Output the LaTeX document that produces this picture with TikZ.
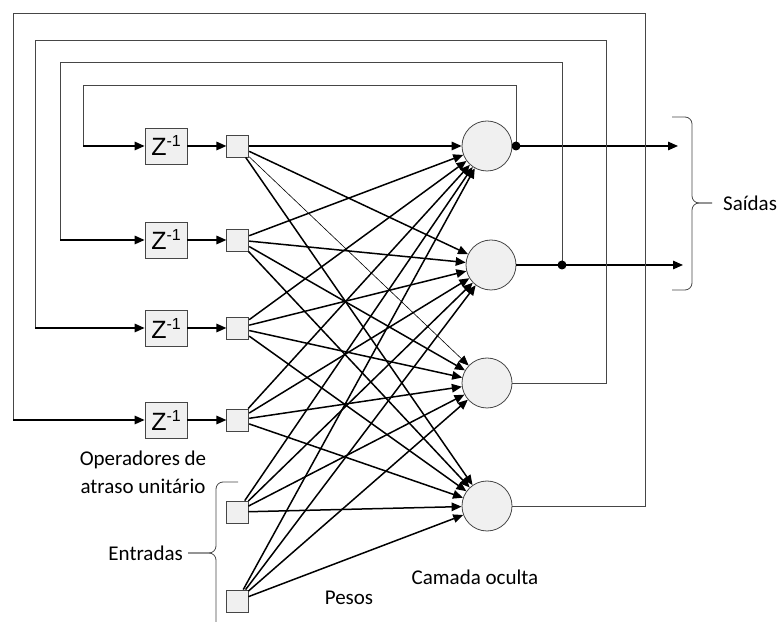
\documentclass[tikz,border=0pt]{standalone}
\usepackage{fontspec}
\setmainfont{Carlito}
\newfontfamily\zfont{Liberation Sans}
\usepackage{tikz}
\usetikzlibrary{arrows.meta, positioning}
\definecolor{cellbg}{RGB}{240, 240, 240}
\definecolor{edge}{RGB}{70, 70, 70}
\newcommand{\zinv}{{\zfont\fontsize{25}{25}\selectfont Z\raisebox{9pt}{\fontsize{16}{16}\selectfont -1}}}

\begin{document}
\begin{tikzpicture}[
			x=1pt, y=1pt,
			delay/.style={rectangle, draw=edge, fill=cellbg, minimum width=42pt, minimum height=36pt, inner sep=0pt, line width=0.8pt},
			unit/.style={rectangle, draw=edge, fill=cellbg, minimum size=22pt, inner sep=0pt, line width=0.8pt},
			neuron/.style={circle, draw=edge, fill=cellbg, minimum size=50pt, inner sep=0pt, line width=0.8pt},
			dot/.style={circle, fill=black, minimum size=9pt, inner sep=0pt},
			wire/.style={line width=1.5pt, -{Triangle[length=10pt, width=8.5pt]}},
			fb/.style={line width=0.9pt, draw=edge},
			brc/.style={line width=0.8pt, draw=edge, rounded corners=7pt},
			lbl/.style={font=\fontsize{21}{28}\selectfont, align=center, inner sep=0pt}
			]
			\clip (0,0) rectangle (784,621);
			
			% Delay operators and their units
			\node[delay] (z1) at (166,475) {\zinv};
			\node[delay] (z2) at (166,381) {\zinv};
			\node[delay] (z3) at (166,293) {\zinv};
			\node[delay] (z4) at (166,201) {\zinv};
			\foreach \k in {1,...,4}
				\node[unit, right=39pt of z\k] (s\k) {};
			
			% External inputs
			\node[unit] (s5) at (237,109) {};
			\node[unit] (s6) at (237,20) {};
			
			% Hidden layer
			\node[neuron] (n1) at (487,475) {};
			\node[neuron] (n2) at (491,356) {};
			\node[neuron] (n3) at (487,238) {};
			\node[neuron] (n4) at (487,115) {};
			
			% Corners of the feedback loops
			\coordinate (d1) at (516,475);
			\coordinate (d2) at (562,356);
			\coordinate (e3) at (606,581);
			\coordinate (e4) at (645,608);
			\coordinate (c1) at (83,536);
			\coordinate (c2) at (60,559);
			\coordinate (c3) at (35,581);
			\coordinate (c4) at (13,608);
			\foreach \k in {1,...,4}
				\coordinate (k\k) at (c\k |- z\k);
			\coordinate (o1) at (678,475);
			\coordinate (o2) at (683,356);
			
			% Weights
			\foreach \i in {1,...,6}
				\foreach \j in {1,...,4}{
					\ifnum\i\j=13
						\draw[wire, line width=0.6pt] (s\i) -- (n\j);
					\else
						\draw[wire] (s\i) -- (n\j);
					\fi
				}
			\foreach \k in {1,...,4}
				\draw[wire] (z\k) -- (s\k);
			
			% Outputs
			\draw[wire] (n1) -- (o1);
			\draw[wire] (n2) -- (o2);
			
			% Feedback
			\draw[fb] (d1) |- (c1) -- (k1);
			\draw[fb] (d2) |- (c2) -- (k2);
			\draw[fb] (n3) -| (e3) -- (c3) -- (k3);
			\draw[fb] (n4) -| (e4) -- (c4) -- (k4);
			\foreach \k in {1,...,4}
				\draw[wire] (k\k) -- (z\k);
			\node[dot] (j1) at (d1) {};
			\node[dot] (j2) at (d2) {};
			
			% Braces
			\coordinate (b1) at (672,504);
			\coordinate (b2) at (672,331);
			\coordinate (t1) at (712,418);
			\draw[brc] (b1) -- (692,504) -- (692,418) -- (t1);
			\draw[brc] (t1) -- (692,418) -- (692,331) -- (b2);
			\coordinate (b3) at (238,139);
			\coordinate (b4) at (238,-20);
			\coordinate (t2) at (188,68);
			\draw[brc] (b3) -- (216,139) -- (216,68) -- (t2);
			\draw[brc] (t2) -- (216,68) -- (216,-20) -- (b4);
			
			% Labels
			\node[lbl, anchor=west] (out) at (723,418) {Saídas};
			\node[lbl] (ops) at (143,149) {Operadores de\\atraso unitário};
			\node[lbl, anchor=east] (inp) at (183,68) {Entradas};
			\node[lbl] (hid) at (475,44) {Camada oculta};
			\node[lbl] (wts) at (349,23) {Pesos};
		\end{tikzpicture}
\end{document}
